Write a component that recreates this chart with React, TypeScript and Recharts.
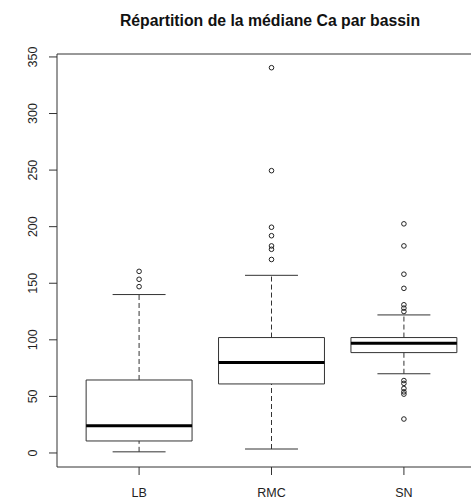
import React from "react";
import {
  ScatterChart,
  Scatter,
  XAxis,
  YAxis,
  ReferenceArea,
  ReferenceLine,
} from "recharts";

const categories = ["LB", "RMC", "SN"];
const lowerWhisker = [1, 3.5, 70];
const q1 = [10.6, 61, 88.7];
const median = [24, 80, 97];
const q3 = [64.5, 102, 102];
const upperWhisker = [140, 157, 122];
const outliersLB = [147, 153.5, 160.5];
const outliersRMC = [171, 180, 183, 192, 199.5, 249.5, 340.5];
const outliersSN = [30, 52, 54, 57, 61.5, 64, 125, 128, 131, 145.5, 158, 183, 202.5];
const yTicks = [0, 50, 100, 150, 200, 250, 300, 350];
const title = "Répartition de la médiane Ca par bassin";

const outlierGroups = [outliersLB, outliersRMC, outliersSN];
const outlierData = outlierGroups.flatMap((g, i) => g.map((v) => ({ x: i + 1, y: v })));

const X_DOMAIN: [number, number] = [0.38, 3.62];
const Y_DOMAIN: [number, number] = [-12.4, 352.6];
const FONT = "'Liberation Sans', Arial, sans-serif";
const INK = "#222";

const OutlierShape = (props: any) => (
  <circle cx={props.cx} cy={props.cy} r={2.3} fill="none" stroke={INK} strokeWidth={1} />
);

const YTick = (props: any) => {
  const { x, y, payload } = props;
  const tx = x - 10;
  return (
    <text
      x={tx}
      y={y}
      transform={`rotate(-90, ${tx}, ${y})`}
      textAnchor="middle"
      fontSize={12.5}
      fontFamily={FONT}
      fill={INK}
    >
      {payload.value}
    </text>
  );
};

export default function App() {
  const boxW = 0.4;
  const capW = 0.2;
  return (
    <div style={{ position: "absolute", left: 0, top: 0, width: 471, height: 499, overflow: "hidden", background: "#fff" }}>
      <svg width={471} height={40} style={{ position: "absolute", left: 0, top: 0 }}>
        <text x={270} y={25.5} textAnchor="middle" fontSize={15.8} fontWeight="bold" fontFamily={FONT} fill="#111">
          {title}
        </text>
      </svg>
      <div style={{ position: "absolute", left: 0, top: 0 }}>
        <ScatterChart width={490} height={499} margin={{ top: 54, right: 4, bottom: 0, left: 0 }}>
          <XAxis
            type="number"
            dataKey="x"
            domain={X_DOMAIN}
            ticks={[1, 2, 3]}
            tickFormatter={(v: number) => categories[v - 1]}
            axisLine={false}
            tickSize={8}
            tickMargin={13}
            height={32}
            tickLine={{ stroke: "#333" }}
            tick={{ fill: INK, fontSize: 12.5, fontFamily: FONT }}
            allowDataOverflow
          />
          <YAxis
            type="number"
            dataKey="y"
            domain={Y_DOMAIN}
            ticks={yTicks}
            width={57}
            axisLine={false}
            tickSize={8}
            tickLine={{ stroke: "#333" }}
            tick={<YTick />}
            allowDataOverflow
          />
          <ReferenceArea
            x1={X_DOMAIN[0]}
            x2={X_DOMAIN[1]}
            y1={Y_DOMAIN[0]}
            y2={Y_DOMAIN[1]}
            fill="none"
            stroke="#333"
            strokeWidth={1}
            ifOverflow="visible"
          />
          {categories.map((c, i) => {
            const cx = i + 1;
            return (
              <React.Fragment key={c}>
                <ReferenceLine
                  segment={[{ x: cx, y: q3[i] }, { x: cx, y: upperWhisker[i] }]}
                  stroke="#333"
                  strokeDasharray="5 3"
                  ifOverflow="visible"
                />
                <ReferenceLine
                  segment={[{ x: cx, y: lowerWhisker[i] }, { x: cx, y: q1[i] }]}
                  stroke="#333"
                  strokeDasharray="5 3"
                  ifOverflow="visible"
                />
                <ReferenceLine
                  segment={[{ x: cx - capW, y: upperWhisker[i] }, { x: cx + capW, y: upperWhisker[i] }]}
                  stroke="#333"
                  ifOverflow="visible"
                />
                <ReferenceLine
                  segment={[{ x: cx - capW, y: lowerWhisker[i] }, { x: cx + capW, y: lowerWhisker[i] }]}
                  stroke="#333"
                  ifOverflow="visible"
                />
                <ReferenceArea
                  x1={cx - boxW}
                  x2={cx + boxW}
                  y1={q1[i]}
                  y2={q3[i]}
                  fill="#fff"
                  fillOpacity={1}
                  stroke="#333"
                  strokeWidth={1}
                  ifOverflow="visible"
                />
                <ReferenceLine
                  segment={[{ x: cx - boxW, y: median[i] }, { x: cx + boxW, y: median[i] }]}
                  stroke="#000"
                  strokeWidth={3}
                  ifOverflow="visible"
                />
              </React.Fragment>
            );
          })}
          <Scatter data={outlierData} shape={<OutlierShape />} isAnimationActive={false} />
        </ScatterChart>
      </div>
    </div>
  );
}
